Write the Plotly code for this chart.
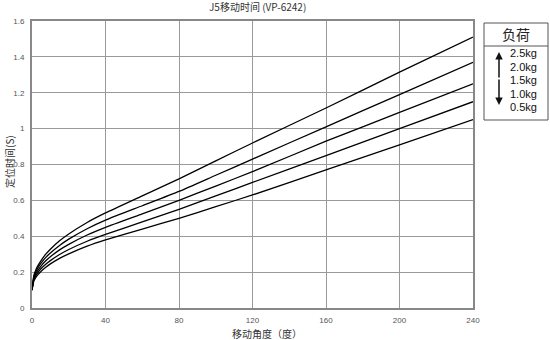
import plotly.graph_objects as go

angle = [0, 1, 2, 3, 5, 7.5, 10, 15, 20, 30, 40, 60, 80, 100, 120, 160, 200, 240]
t_25 = [0.10, 0.18, 0.21, 0.232, 0.266, 0.30, 0.328, 0.375, 0.413, 0.477, 0.53, 0.625, 0.72, 0.82, 0.92, 1.115, 1.315, 1.51]
t_20 = [0.10, 0.173, 0.20, 0.22, 0.251, 0.282, 0.307, 0.349, 0.384, 0.442, 0.49, 0.57, 0.65, 0.74, 0.83, 1.01, 1.19, 1.37]
t_15 = [0.10, 0.165, 0.19, 0.207, 0.235, 0.263, 0.286, 0.324, 0.355, 0.407, 0.45, 0.525, 0.60, 0.68, 0.76, 0.93, 1.09, 1.25]
t_10 = [0.10, 0.158, 0.179, 0.195, 0.22, 0.244, 0.264, 0.298, 0.326, 0.372, 0.41, 0.48, 0.55, 0.625, 0.70, 0.85, 1.00, 1.15]
t_05 = [0.10, 0.15, 0.169, 0.183, 0.205, 0.227, 0.246, 0.277, 0.302, 0.345, 0.38, 0.44, 0.50, 0.565, 0.63, 0.77, 0.91, 1.05]
series = [t_25, t_20, t_15, t_10, t_05]
loads = ["2.5kg", "2.0kg", "1.5kg", "1.0kg", "0.5kg"]
x_ticks = [0, 40, 80, 120, 160, 200, 240]
y_ticks = [0, 0.2, 0.4, 0.6, 0.8, 1, 1.2, 1.4, 1.6]
y_tick_text = ["0", "0.2", "0.4", "0.6", "0.8", "1", "1.2", "1.4", "1.6"]

L, R, T, B = 32, 473, 21, 308
W, H = 550, 340
def px(x):
    return (x - L) / (R - L)
def py(y):
    return (B - y) / (B - T)

fig = go.Figure()
for s, name in zip(series, loads):
    fig.add_trace(go.Scatter(x=angle, y=s, mode="lines", name=name,
                             line=dict(color="#000000", width=1.3, shape="spline", smoothing=0.5),
                             showlegend=False, hoverinfo="skip"))

tickfont = dict(family="Liberation Sans, Arial", size=8, color="#555555")
fig.update_layout(
    width=W, height=H,
    margin=dict(l=L, r=W - R, t=T, b=H - B),
    plot_bgcolor="white", paper_bgcolor="white",
    xaxis=dict(range=[0, 240], tickvals=x_ticks, ticks="", showgrid=True,
               gridcolor="#999999", gridwidth=1, zeroline=False,
               showline=True, linecolor="#888888", linewidth=2, mirror=True,
               tickfont=tickfont, ticklabelstandoff=3),
    yaxis=dict(range=[0, 1.6], tickvals=y_ticks, ticktext=y_tick_text, ticks="",
               showgrid=True, gridcolor="#999999", gridwidth=1, zeroline=False,
               showline=True, linecolor="#888888", linewidth=2, mirror=True,
               tickfont=tickfont, ticklabelstandoff=4),
)

def text_ann(text, x, y, size, family, color="#333333", angle=0):
    return dict(text=text, x=px(x), y=py(y), xref="paper", yref="paper",
                xanchor="center", yanchor="middle", showarrow=False, textangle=angle,
                font=dict(family=family, size=size, color=color))

CJK = "Noto Sans CJK SC"
ann = []
ann.append(text_ann("J5移动时间 (VP-6242)", 257, 7, 10, CJK))
ann.append(text_ann("移动角度（度）", 267, 333, 10, CJK))
ann.append(text_ann("定位时间(S)", 9, 162, 10, CJK, angle=-90))

# legend box
shapes = []
shapes.append(dict(type="rect", xref="paper", yref="paper", x0=px(484), x1=px(548),
                   y0=py(120), y1=py(23), line=dict(color="#555555", width=1), fillcolor="white"))
shapes.append(dict(type="line", xref="paper", yref="paper", x0=px(484), x1=px(548),
                   y0=py(46), y1=py(46), line=dict(color="#555555", width=1)))
ann.append(text_ann("负荷", 516, 34, 14, CJK, color="#222222"))
for i, name in enumerate(loads):
    ann.append(text_ann(name, 523, 53 + i * 13.5, 11, "Liberation Sans, Arial", color="#111111"))
# double-headed arrow
ann.append(dict(x=px(499), y=py(52), xref="paper", yref="paper", ax=0, ay=27,
                showarrow=True, arrowhead=2, arrowsize=1,
                arrowwidth=1.5, arrowcolor="#111111", text=""))
ann.append(dict(x=px(499), y=py(105), xref="paper", yref="paper", ax=0, ay=-27,
                showarrow=True, arrowhead=2, arrowsize=1,
                arrowwidth=1.5, arrowcolor="#111111", text=""))

fig.update_layout(annotations=ann, shapes=shapes)
fig.write_html("out.html")
